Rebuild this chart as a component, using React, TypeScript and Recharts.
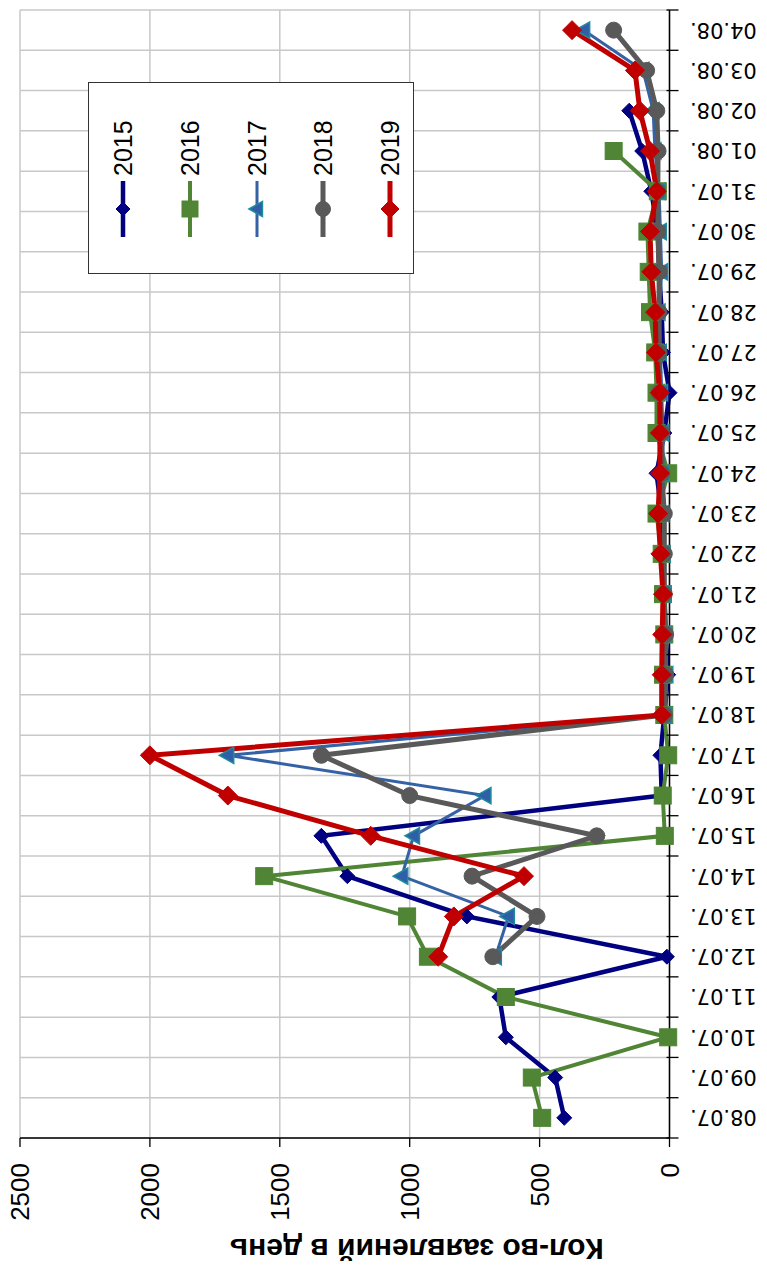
import React from 'react';
import { LineChart, Line, XAxis, YAxis, CartesianGrid, Legend } from 'recharts';

// Categories (days)
const dates = ['08.07.', '09.07.', '10.07.', '11.07.', '12.07.', '13.07.', '14.07.', '15.07.', '16.07.', '17.07.',
  '18.07.', '19.07.', '20.07.', '21.07.', '22.07.', '23.07.', '24.07.', '25.07.', '26.07.', '27.07.',
  '28.07.', '29.07.', '30.07.', '31.07.', '01.08.', '02.08.', '03.08.', '04.08.'];

// Series values (applications per day)
const v2015 = [405, 440, 630, 655, 10, 780, 1240, 1340, 30, 35, 20, 5, 15, 20, 25, 30, 50, 20, 0, 25, 30, 40, 45, 70, 105, 155, null, null];
const v2016 = [490, 530, 5, 630, 930, 1010, 1560, 18, 26, 5, 20, 25, 20, 25, 30, 50, 5, 50, 50, 55, 75, 80, 85, 45, 215, null, null, null];
const v2017 = [null, null, null, null, 670, 620, 1030, 985, 710, 1700, 15, 10, 15, 20, 20, 25, 25, 25, 30, 35, 40, 30, 35, 40, 56, 63, 102, 330];
const v2018 = [null, null, null, null, 680, 510, 760, 280, 1000, 1340, 20, 15, 15, 20, 20, 20, 30, 30, 40, 40, 40, 40, 45, 45, 44, 49, 88, 215];
const v2019 = [null, null, null, null, 890, 830, 560, 1150, 1700, 2000, 30, 30, 28, 25, 35, 44, 37, 37, 37, 52, 55, 70, 75, 49, 75, 114, 133, 375];

// Value axis ticks
const valueTicks = [0, 500, 1000, 1500, 2000, 2500];

const rows = dates.map((d, i) => ({
  i,
  label: d,
  y2015: v2015[i],
  y2016: v2016[i],
  y2017: v2017[i],
  y2018: v2018[i],
  y2019: v2019[i],
}));

const boundaries = dates.map((_, i) => i - 0.5).concat([dates.length - 0.5]);
const catTicks = boundaries.concat(dates.map((_, i) => i)).sort((a, b) => a - b);

type Shape = 'diamond' | 'square' | 'triangle' | 'circle';
const SERIES: { key: string; name: string; color: string; width: number; shape: Shape; size: number; fill: string; stroke: string }[] = [
  { key: 'y2015', name: '2015', color: '#000080', width: 4.5, shape: 'diamond', size: 15, fill: '#000080', stroke: '#000080' },
  { key: 'y2016', name: '2016', color: '#4F8535', width: 4, shape: 'square', size: 17, fill: '#4F8535', stroke: '#4F8535' },
  { key: 'y2017', name: '2017', color: '#3462A4', width: 3, shape: 'triangle', size: 14, fill: '#2F5FA6', stroke: '#1E8C9C' },
  { key: 'y2018', name: '2018', color: '#595959', width: 5, shape: 'circle', size: 16, fill: '#595959', stroke: '#595959' },
  { key: 'y2019', name: '2019', color: '#C00000', width: 5, shape: 'diamond', size: 19, fill: '#C00000', stroke: '#C00000' },
];

const Marker = ({ cx, cy, shape, size, fill, stroke }: any) => {
  if (cx == null || cy == null || isNaN(cx) || isNaN(cy)) return <g />;
  const h = size / 2;
  if (shape === 'diamond') {
    return <polygon points={`${cx},${cy - h} ${cx + h},${cy} ${cx},${cy + h} ${cx - h},${cy}`} fill={fill} stroke={stroke} strokeWidth={1} />;
  }
  if (shape === 'square') {
    return <rect x={cx - h} y={cy - h} width={size} height={size} fill={fill} stroke={stroke} strokeWidth={1} />;
  }
  if (shape === 'triangle') {
    return <polygon points={`${cx},${cy - size * 0.62} ${cx + size * 0.58},${cy + size * 0.42} ${cx - size * 0.58},${cy + size * 0.42}`} fill={fill} stroke={stroke} strokeWidth={1.5} />;
  }
  return <circle cx={cx} cy={cy} r={h} fill={fill} stroke={stroke} strokeWidth={1} />;
};

const CatTick = (props: any) => {
  const { x, y, payload } = props;
  const v = payload.value;
  if (Number.isInteger(v)) {
    const ty = y + 20.5;
    return (
      <text x={x} y={ty} transform={`rotate(-90 ${x} ${ty})`} textAnchor="end" dy="0.36em"
        fontFamily="'DejaVu Sans', sans-serif" fontSize={21} fill="#000">{dates[v]}</text>
    );
  }
  return <line x1={x} y1={y - 3} x2={x} y2={y + 9} stroke="#000" strokeWidth={1.3} />;
};

const AxisTitle = (props: any) => {
  const vb = props.viewBox || { x: 0, y: 0, width: 0, height: 0 };
  const cx = vb.x + 15;
  const cy = vb.y + vb.height / 2 + 72;
  return (
    <text x={cx} y={cy} transform={`rotate(-90 ${cx} ${cy})`} textAnchor="middle" dy="0.36em"
      fontFamily="'Liberation Sans', Arial, sans-serif" fontWeight="bold" fontSize={30} fill="#000">
      Кол-во заявлений в день
    </text>
  );
};

const LegendBox = () => (
  <div style={{ position: 'relative', width: 192, height: 326, border: '1.5px solid #333', boxSizing: 'border-box', background: '#fff' }}>
    {SERIES.map((s, k) => (
      <div key={s.key} style={{ position: 'absolute', left: 0, top: 34 + k * 66.8 - 16, height: 32, display: 'flex', alignItems: 'center' }}>
        <svg width={97} height={32} style={{ display: 'block' }}>
          <line x1={36} y1={16} x2={92} y2={16} stroke={s.color} strokeWidth={s.width} />
          <Marker cx={64} cy={16} shape={s.shape} size={s.size - 1} fill={s.fill} stroke={s.stroke} />
        </svg>
        <span style={{ fontSize: 25, fontFamily: "'Liberation Sans', Arial, sans-serif", lineHeight: '32px', color: '#000' }}>{s.name}</span>
      </div>
    ))}
  </div>
);

const W = 1265;
const H = 767;

export default function App() {
  return (
    <div style={{ position: 'absolute', left: 0, top: 0, width: H, height: W, overflow: 'hidden', background: '#fff' }}>
      <div style={{ width: W, height: H, transformOrigin: '0 0', transform: `translateY(${W}px) rotate(-90deg)` }}>
        <LineChart width={W} height={H} data={rows} margin={{ top: 20, right: 10, bottom: 0, left: 0 }}>
          <CartesianGrid stroke="#c8c8c8" strokeWidth={1.5} verticalValues={boundaries} />
          <XAxis dataKey="i" type="number" domain={[-0.5, dates.length - 0.5]} ticks={catTicks} interval={0}
            allowDecimals height={97.5} tickLine={false} tickSize={0} tickMargin={0}
            axisLine={{ stroke: '#000', strokeWidth: 1.5 }} tick={CatTick} />
          <YAxis type="number" domain={[0, 2500]} ticks={valueTicks} interval={0} width={127}
            tickSize={9} tickMargin={16} tickLine={{ stroke: '#000', strokeWidth: 1.3 }}
            axisLine={{ stroke: '#000', strokeWidth: 1.5 }}
            tick={{ fontSize: 26, fill: '#000', fontFamily: "'Liberation Sans', Arial, sans-serif" }}
            label={{ content: AxisTitle }} />
          <Legend layout="vertical" align="center" verticalAlign="middle"
            wrapperStyle={{ left: 991, top: 88, width: 192, height: 326 }} content={LegendBox} />
          {SERIES.map((s) => (
            <Line key={s.key} dataKey={s.key} name={s.name} stroke={s.color} strokeWidth={s.width}
              isAnimationActive={false} activeDot={false} connectNulls={false}
              dot={(p: any) => <Marker key={`${s.key}-${p.index}`} cx={p.cx} cy={p.cy} shape={s.shape} size={s.size} fill={s.fill} stroke={s.stroke} />} />
          ))}
        </LineChart>
      </div>
    </div>
  );
}
